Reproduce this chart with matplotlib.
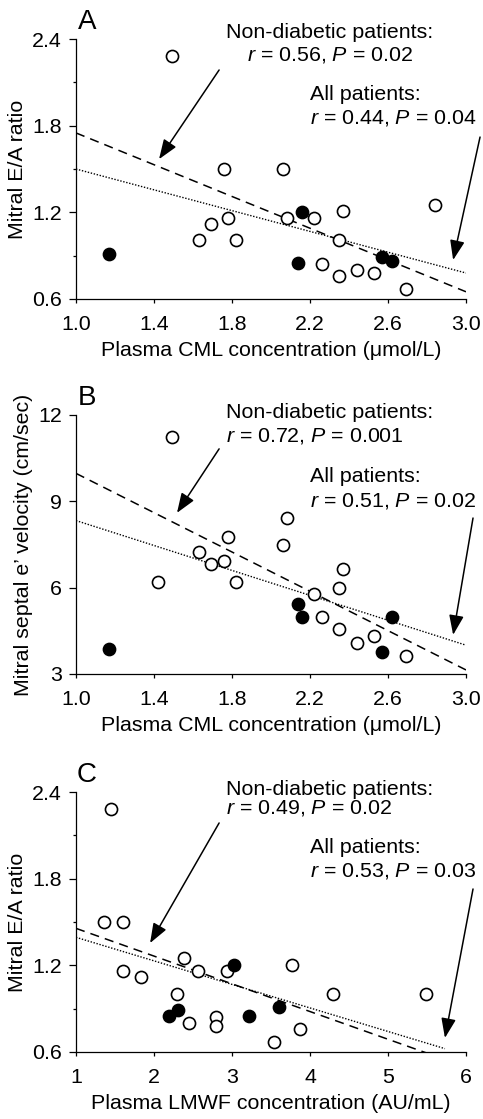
import numpy as np
import matplotlib
matplotlib.use("Agg")
import matplotlib.pyplot as plt
from matplotlib.ticker import FixedLocator, FormatStrFormatter

plt.rcParams["font.family"] = ["Liberation Sans", "DejaVu Sans"]
plt.rcParams["mathtext.fontset"] = "custom"
plt.rcParams["mathtext.rm"] = "Liberation Sans"
plt.rcParams["mathtext.it"] = "Liberation Sans:italic"

# --- panel A: CML vs E/A ratio ---
a_open_x = [1.49, 1.76, 2.06, 2.84, 1.63, 1.69, 1.78, 1.82, 2.08, 2.22, 2.37, 2.35, 2.26, 2.35, 2.44, 2.53, 2.69]
a_open_y = [2.28, 1.50, 1.50, 1.25, 1.01, 1.12, 1.16, 1.01, 1.16, 1.16, 1.21, 1.01, 0.84, 0.76, 0.80, 0.78, 0.67]
a_fill_x = [1.17, 2.16, 2.14, 2.57, 2.62]
a_fill_y = [0.91, 1.20, 0.85, 0.89, 0.86]
a_nd_line = ([1.0, 3.0], [1.75, 0.65])
a_all_line = ([1.0, 3.0], [1.50, 0.78])

# --- panel B: CML vs septal e' ---
b_open_x = [1.49, 1.42, 1.63, 1.69, 1.76, 1.78, 1.82, 2.06, 2.08, 2.22, 2.35, 2.37, 2.26, 2.35, 2.44, 2.53, 2.69]
b_open_y = [11.22, 6.21, 7.25, 6.82, 6.93, 7.75, 6.21, 7.47, 8.43, 5.79, 5.97, 6.64, 4.99, 4.57, 4.09, 4.33, 3.63]
b_fill_x = [1.17, 2.14, 2.16, 2.62, 2.57]
b_fill_y = [3.87, 5.42, 4.99, 4.99, 3.78]
b_nd_line = ([1.0, 3.0], [9.97, 3.14])
b_all_line = ([1.0, 3.0], [8.33, 4.00])

# --- panel C: LMWF vs E/A ratio ---
c_open_x = [1.45, 1.36, 1.60, 1.60, 1.84, 2.39, 2.57, 2.94, 3.77, 2.30, 4.29, 5.49, 2.45, 2.79, 2.79, 3.87, 3.54]
c_open_y = [2.28, 1.50, 1.50, 1.16, 1.12, 1.25, 1.16, 1.16, 1.20, 1.00, 1.00, 1.00, 0.80, 0.84, 0.78, 0.76, 0.67]
c_fill_x = [2.19, 2.31, 3.03, 3.22, 3.60]
c_fill_y = [0.85, 0.89, 1.20, 0.85, 0.91]
c_nd_line = ([1.0, 6.0], [1.456, 0.496])
c_all_line = ([1.0, 5.73], [1.394, 0.623])

cml_ticks = [1.0, 1.4, 1.8, 2.2, 2.6, 3.0]
lmwf_ticks = [1, 2, 3, 4, 5, 6]
ea_ticks = [0.6, 1.2, 1.8, 2.4]
ea_minor = [0.9, 1.5, 2.1]
vel_ticks = [3, 6, 9, 12]

panels = [
    dict(letter="A", ox=a_open_x, oy=a_open_y, fx=a_fill_x, fy=a_fill_y,
         nd=a_nd_line, al=a_all_line, xticks=cml_ticks, xfmt="%.1f",
         yticks=ea_ticks, yminor=ea_minor, yfmt="%.1f",
         ylabel="Mitral E/A ratio", xlabel="Plasma CML concentration (\u03bcmol/L)",
         nd_txt="$r$ = 0.56, $P$ = 0.02", all_txt="$r$ = 0.44, $P$ = 0.04",
         nd_pos=(0.651, 1.027, 0.938), nd_ha="center", all_pos=(0.60, 0.785, 0.696),
         nd_arrow=((0.367, 0.881), (0.213, 0.538)),
         all_arrow=((1.036, 0.623), (0.967, 0.150)),
         rect=[0.1573, 0.7328, 0.8075, 0.2323]),
    dict(letter="B", ox=b_open_x, oy=b_open_y, fx=b_fill_x, fy=b_fill_y,
         nd=b_nd_line, al=b_all_line, xticks=cml_ticks, xfmt="%.1f",
         yticks=vel_ticks, yminor=[], yfmt="%d",
         ylabel="Mitral septal e\u2019 velocity (cm/sec)",
         xlabel="Plasma CML concentration (\u03bcmol/L)",
         nd_txt="$r$ = 0.72, $P$ = 0.001", all_txt="$r$ = 0.51, $P$ = 0.02",
         nd_pos=(0.385, 1.008, 0.919), nd_ha="left", all_pos=(0.60, 0.761, 0.668),
         nd_arrow=((0.367, 0.869), (0.259, 0.622)),
         all_arrow=((1.018, 0.602), (0.967, 0.151)),
         rect=[0.1573, 0.3977, 0.8075, 0.2315]),
    dict(letter="C", ox=c_open_x, oy=c_open_y, fx=c_fill_x, fy=c_fill_y,
         nd=c_nd_line, al=c_all_line, xticks=lmwf_ticks, xfmt="%d",
         yticks=ea_ticks, yminor=ea_minor, yfmt="%.1f",
         ylabel="Mitral E/A ratio", xlabel="Plasma LMWF concentration (AU/mL)",
         nd_txt="$r$ = 0.49, $P$ = 0.02", all_txt="$r$ = 0.53, $P$ = 0.03",
         nd_pos=(0.385, 1.008, 0.938), nd_ha="left", all_pos=(0.60, 0.788, 0.696),
         nd_arrow=((0.367, 0.881), (0.190, 0.419)),
         all_arrow=((1.018, 0.627), (0.946, 0.054)),
         rect=[0.1573, 0.0599, 0.8075, 0.2323]),
]

FS = 15.4
fig = plt.figure(figsize=(4.83, 11.19), dpi=100)

for p in panels:
    ax = fig.add_axes(p["rect"])
    ax.plot(*p["nd"], color="black", lw=1.1, ls=(0, (6, 4)), zorder=2)
    ax.plot(*p["al"], color="black", lw=1.0, ls=(0, (1, 1.2)), zorder=2)
    ax.plot(p["ox"], p["oy"], "o", mfc="white", mec="black", mew=1.2, ms=8.7, zorder=3)
    ax.plot(p["fx"], p["fy"], "o", mfc="black", mec="black", mew=1.2, ms=8.7, zorder=3)

    ax.set_xlim(p["xticks"][0], p["xticks"][-1])
    ax.set_ylim(p["yticks"][0], p["yticks"][-1])
    ax.xaxis.set_major_locator(FixedLocator(p["xticks"]))
    ax.yaxis.set_major_locator(FixedLocator(p["yticks"]))
    ax.yaxis.set_minor_locator(FixedLocator(p["yminor"]))
    ax.xaxis.set_major_formatter(FormatStrFormatter(p["xfmt"]))
    ax.yaxis.set_major_formatter(FormatStrFormatter(p["yfmt"]))
    for s in ("top", "right"):
        ax.spines[s].set_visible(False)
    for s in ("left", "bottom"):
        ax.spines[s].set_linewidth(0.9)
    ax.tick_params(axis="y", which="major", direction="out", length=5, width=0.9,
                   labelsize=FS, pad=5)
    ax.tick_params(axis="x", which="major", direction="out", length=3, width=0.9,
                   labelsize=FS, pad=8.5)
    ax.tick_params(axis="y", which="minor", direction="out", length=2, width=0.9)
    ax.set_ylabel(p["ylabel"], fontsize=FS, labelpad=4)
    ax.set_xlabel(p["xlabel"], fontsize=FS, labelpad=5)

    ax.text(0.028, 1.065, p["letter"], transform=ax.transAxes, fontsize=20,
            ha="center", va="center")

    x0, y1, y2 = p["nd_pos"]
    ax.text(x0, y1, "Non-diabetic patients:", transform=ax.transAxes,
            fontsize=FS, ha=p["nd_ha"], va="center")
    ax.text(x0, y2, p["nd_txt"], transform=ax.transAxes,
            fontsize=FS, ha=p["nd_ha"], va="center")
    x0, y1, y2 = p["all_pos"]
    ax.text(x0, y1, "All patients:", transform=ax.transAxes,
            fontsize=FS, ha="left", va="center")
    ax.text(x0, y2, p["all_txt"], transform=ax.transAxes,
            fontsize=FS, ha="left", va="center")

    arrow = dict(arrowstyle="-|>,head_length=0.8,head_width=0.3",
                 mutation_scale=15, color="black", lw=1.1, shrinkA=0, shrinkB=0)
    for tail, head in (p["nd_arrow"], p["all_arrow"]):
        ax.annotate("", xy=head, xytext=tail, xycoords="axes fraction",
                    textcoords="axes fraction", arrowprops=arrow,
                    annotation_clip=False)

fig.savefig("out.png", dpi=100)
